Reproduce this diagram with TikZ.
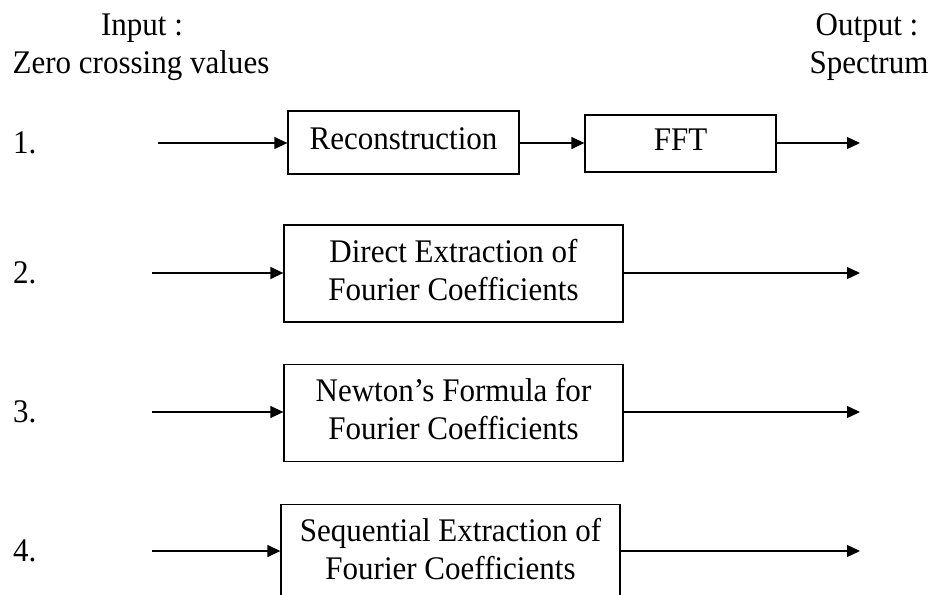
\documentclass[tikz,border=0pt]{standalone}
\usepackage{fontspec}
\setmainfont[FakeStretch=0.94]{Liberation Serif}
\usetikzlibrary{arrows.meta}
% two centred lines, lifted a little inside their block
\newcommand{\twolines}[2]{\raisebox{5pt}{\setlength{\tabcolsep}{0pt}\begin{tabular}{c}#1\\#2\end{tabular}}}
\begin{document}
\begin{tikzpicture}[x=1pt,y=-1pt,
  blk/.style={draw, line width=1.3pt, inner sep=0pt, align=center,
    font=\fontsize{33}{38}\selectfont},
  arr/.style={line width=1.3pt, -{Triangle[length=13pt,width=12pt]}},
  lbl/.style={font=\fontsize{33}{38}\selectfont, inner sep=0pt, anchor=base}]
\clip (0,0) rectangle (931,594);

% column headings
\node[lbl] (inA) at (142,36) {Input :};
\node[lbl] (inB) at (141,74) {Zero crossing values};
\node[lbl] (outA) at (867,36) {Output :};
\node[lbl] (outB) at (869,74) {Spectrum};

% row numbers
\node[lbl, anchor=base west] (n1) at (13,153) {1.};
\node[lbl, anchor=base west] (n2) at (13,283) {2.};
\node[lbl, anchor=base west] (n3) at (13,422) {3.};
\node[lbl, anchor=base west] (n4) at (13,561) {4.};

% processing blocks
\node[blk, minimum width=231pt, minimum height=63pt] (rec) at (403.5,142.5) {\raisebox{8pt}{Reconstruction}};
\node[blk, minimum width=191pt, minimum height=57pt] (fft) at (680.5,143.5) {\raisebox{7pt}{FFT}};
\node[blk, minimum width=339pt, minimum height=97pt] (dir) at (453.5,273.5) {\twolines{Direct Extraction of}{Fourier Coefficients}};
\node[blk, minimum width=339pt, minimum height=97pt] (newt) at (453.5,413) {\twolines{Newton’s Formula for}{Fourier Coefficients}};
\node[blk, minimum width=339pt, minimum height=97pt] (seq) at (450.5,553) {\twolines{Sequential Extraction of}{Fourier Coefficients}};

% free ends of the input and output arrows
\coordinate (s1) at (158,143);
\coordinate (e1) at (860,143);
\coordinate (s2) at (152,273);
\coordinate (e2) at (860,273);
\coordinate (s3) at (152,412);
\coordinate (e3) at (860,412);
\coordinate (s4) at (152,551);
\coordinate (e4) at (860,551);

% connectors
\draw[arr] (s1) -- (s1 -| rec.west);
\draw[arr] (s1 -| rec.east) -- (s1 -| fft.west);
\draw[arr] (s1 -| fft.east) -- (e1);
\draw[arr] (s2) -- (s2 -| dir.west);
\draw[arr] (s2 -| dir.east) -- (e2);
\draw[arr] (s3) -- (s3 -| newt.west);
\draw[arr] (s3 -| newt.east) -- (e3);
\draw[arr] (s4) -- (s4 -| seq.west);
\draw[arr] (s4 -| seq.east) -- (e4);
\end{tikzpicture}
\end{document}
